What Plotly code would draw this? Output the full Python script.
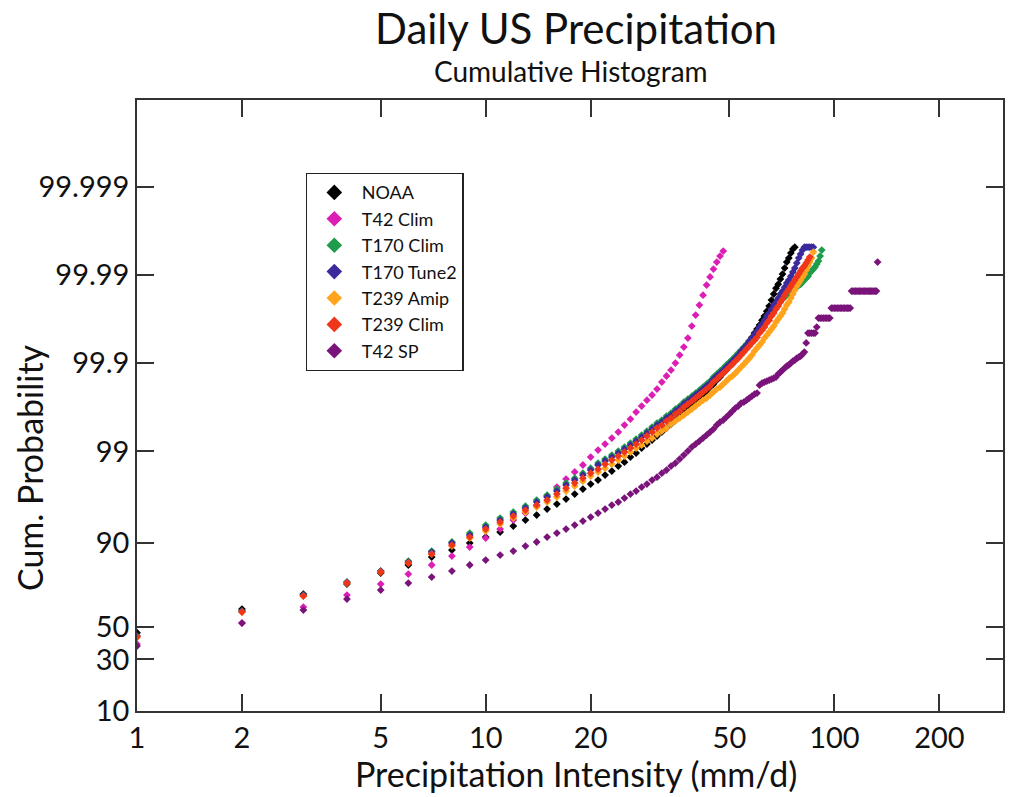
import math
import plotly.graph_objects as go

# Precipitation bins (mm/d), 1 mm/d spacing
bin_mm = list(range(1, 134))

# Cumulative probability (%) per bin
noaa = [46.27, 61.56, 70.33, 75.50, 80.42, 83.52, 86.19, 88.23, 90.01, 91.33,
        92.31, 93.36, 94.27, 94.93, 95.64, 96.15, 96.61, 97.01, 97.37, 97.68,
        97.91, 98.16, 98.34, 98.54, 98.68, 98.844, 98.957, 99.083, 99.174, 99.256,
        99.330, 99.396, 99.455, 99.509, 99.558, 99.601, 99.641, 99.676, 99.701, 99.730,
        99.751, 99.775, 99.792, 99.813, 99.827, 99.844, 99.856, 99.870, 99.880, 99.892,
        99.900, 99.9099, 99.9167, 99.925, 99.931, 99.9376, 99.9438, 99.949, 99.9544, 99.9589,
        99.9630, 99.9675, 99.9708, 99.9743, 99.9775, 99.9808, 99.9836, 99.9859, 99.9873, 99.9889,
        99.99026, 99.99167, 99.99288, 99.99359, 99.99438, 99.99494, 99.99519]

t42_clim = [39.06, 52.62, 62.79, 69.79, 75.50, 80.01, 83.52, 86.51, 89.02, 91.12,
            92.85, 94.27, 95.18, 95.95, 96.86, 97.50, 97.96, 98.30, 98.58, 98.844,
            99.035, 99.174, 99.293, 99.396, 99.496, 99.569, 99.641, 99.693, 99.737, 99.770,
            99.803, 99.836, 99.860, 99.880, 99.900, 99.919, 99.9342, 99.9480, 99.9620, 99.9715,
            99.9781, 99.9831, 99.9870, 99.9895, 99.99145, 99.99288, 99.99392, 99.99466]

t170_clim = [44.13, 60.32, 69.79, 76.45, 81.24, 84.91, 87.96, 90.25, 92.13, 93.52,
             94.54, 95.30, 95.95, 96.52, 96.93, 97.37, 97.74, 98.01, 98.25, 98.46,
             98.65, 98.782, 98.902, 99.010, 99.107, 99.195, 99.275, 99.346, 99.411, 99.469,
             99.521, 99.558, 99.601, 99.631, 99.668, 99.693, 99.723, 99.744, 99.763, 99.781,
             99.797, 99.813, 99.827, 99.840, 99.856, 99.867, 99.877, 99.886, 99.895, 99.9027,
             99.9099, 99.9167, 99.9230, 99.9288, 99.9342, 99.9392, 99.9438, 99.9480, 99.9519, 99.9556,
             99.9589, 99.9620, 99.9658, 99.9684, 99.9708, 99.9730, 99.9750, 99.9769, 99.9786, 99.9803,
             99.9813, 99.9822, 99.9831, 99.9840, 99.9848, 99.9852, 99.9859, 99.9863, 99.9870, 99.9873,
             99.9880, 99.9886, 99.9892, 99.9897, 99.99051, 99.99099, 99.99145, 99.99189, 99.99250, 99.99307,
             99.99392, 99.99480]

t170_tune2 = [44.13, 60.32, 69.79, 76.45, 81.24, 84.56, 87.68, 90.01, 91.74, 93.19,
              94.27, 95.06, 95.75, 96.34, 96.78, 97.23, 97.62, 97.91, 98.16, 98.38,
              98.58, 98.72, 98.844, 98.957, 99.060, 99.152, 99.236, 99.312, 99.380, 99.441,
              99.496, 99.534, 99.580, 99.611, 99.650, 99.676, 99.709, 99.730, 99.751, 99.770,
              99.787, 99.803, 99.818, 99.831, 99.848, 99.860, 99.870, 99.880, 99.889, 99.897,
              99.905, 99.912, 99.919, 99.9270, 99.9325, 99.9376, 99.9438, 99.9480, 99.9532, 99.9567,
              99.9610, 99.9640, 99.9675, 99.9708, 99.9730, 99.9757, 99.9781, 99.9797, 99.9817, 99.9836,
              99.9848, 99.9863, 99.9877, 99.9886, 99.9897, 99.99076, 99.99167, 99.99270, 99.99359, 99.99423,
              99.99480, 99.99519, 99.99519, 99.99519, 99.99519, 99.99519, 99.99519]

t239_amip = [43.50, 59.69, 69.24, 75.98, 80.83, 84.22, 87.10, 89.28, 91.12, 92.50,
             93.67, 94.54, 95.30, 95.85, 96.34, 96.78, 97.23, 97.56, 97.85, 98.11,
             98.30, 98.46, 98.61, 98.75, 98.873, 98.983, 99.083, 99.152, 99.236, 99.293,
             99.363, 99.411, 99.455, 99.509, 99.546, 99.580, 99.611, 99.641, 99.668, 99.693,
             99.716, 99.737, 99.751, 99.770, 99.787, 99.803, 99.813, 99.827, 99.840, 99.852,
             99.860, 99.870, 99.880, 99.889, 99.897, 99.905, 99.912, 99.919, 99.9270, 99.9325,
             99.9376, 99.9423, 99.9480, 99.9519, 99.9556, 99.9589, 99.9620, 99.9658, 99.9684, 99.9708,
             99.9730, 99.9757, 99.9781, 99.9797, 99.9817, 99.9836, 99.9852, 99.9867, 99.9877, 99.9886,
             99.9895, 99.99026, 99.99123, 99.99210, 99.99288, 99.99359, 99.99452]

t239_clim = [43.50, 59.69, 69.24, 75.98, 80.83, 84.22, 87.10, 89.53, 91.33, 92.85,
             93.98, 94.81, 95.53, 96.05, 96.52, 97.01, 97.43, 97.74, 98.01, 98.25,
             98.42, 98.61, 98.75, 98.873, 98.983, 99.083, 99.174, 99.256, 99.330, 99.396,
             99.455, 99.496, 99.546, 99.580, 99.621, 99.650, 99.685, 99.709, 99.730, 99.751,
             99.770, 99.787, 99.803, 99.818, 99.836, 99.848, 99.860, 99.870, 99.880, 99.889,
             99.897, 99.905, 99.912, 99.919, 99.925, 99.931, 99.936, 99.941, 99.945, 99.949,
             99.9544, 99.9578, 99.9610, 99.9649, 99.9675, 99.9708, 99.9730, 99.9757, 99.9775, 99.9797,
             99.9813, 99.9831, 99.9844, 99.9856, 99.9867, 99.9877, 99.9886, 99.9895, 99.99026, 99.99099,
             99.99167, 99.99210, 99.99270, 99.99325, 99.99376]

t42_sp = [37.82, 52.62, 60.94, 67.53, 72.48, 75.98, 78.72, 81.24, 83.52, 85.24,
          86.80, 87.96, 89.28, 90.25, 91.33, 92.13, 92.85, 93.52, 94.12, 94.68,
          95.18, 95.64, 96.05, 96.34, 96.69, 97.01, 97.23, 97.50, 97.68, 97.91,
          98.06, 98.25, 98.38, 98.54, 98.65, 98.782, 98.902, 99.010, 99.107, 99.174,
          99.236, 99.293, 99.346, 99.396, 99.441, 99.496, 99.534, 99.558, 99.591, 99.621,
          99.650, 99.676, 99.693, 99.716, 99.723, 99.737, 99.751, 99.763, 99.775, 99.781,
          99.822, 99.831, 99.836, 99.840, 99.844, 99.848, 99.852, 99.856, 99.867, 99.873,
          99.880, 99.886, 99.892, 99.895, 99.900, 99.905, 99.9075, 99.912, 99.9145, 99.9167,
          99.9210, 99.925, 99.941, 99.9544, 99.9544, 99.9544, 99.9544, 99.9544, 99.9610, 99.9692,
          99.9692, 99.9692, 99.9692, 99.9692, 99.9692, 99.9692, 99.9692, 99.9763, 99.9763, 99.9763,
          99.9763, 99.9763, 99.9763, 99.9763, 99.9763, 99.9763, 99.9763, 99.9763, 99.9763, 99.9763,
          99.9763, 99.9848, 99.9848, 99.9848, 99.9848, 99.9848, 99.9848, 99.9848, 99.9848, 99.9848,
          99.9848, 99.9848, 99.9848, 99.9848, 99.9848, 99.9848, 99.9848, 99.9848, 99.9848, 99.9848,
          99.9848, 99.9848, 99.99288]

series_names = ["NOAA", "T42 Clim", "T170 Clim", "T170 Tune2", "T239 Amip", "T239 Clim", "T42 SP"]
series_values = [noaa, t42_clim, t170_clim, t170_tune2, t239_amip, t239_clim, t42_sp]
series_colors = ["#000000", "#dc1fb4", "#1e9c4c", "#3b2a9c", "#ffa41c", "#f0361a", "#7a147a"]

x_ticks = [1, 2, 5, 10, 20, 50, 100, 200]
y_ticks = [10, 30, 50, 90, 99, 99.9, 99.99, 99.999]
y_ticktext = ["10", "30", "50", "90", "99", "99.9", "99.99", "99.999"]


def logodds(pct):
    p = pct / 100.0
    return math.log10(p / (1.0 - p))


FONT = "Lato"

fig = go.Figure()
for name, vals, col in zip(series_names, series_values, series_colors):
    fig.add_trace(go.Scatter(
        x=bin_mm[:len(vals)],
        y=[logodds(v) for v in vals],
        mode="markers",
        name=name,
        marker=dict(symbol="diamond", size=6, color=col, line=dict(width=0)),
    ))

axis_style = dict(
    ticks="inside", ticklen=17, tickwidth=1.5, tickcolor="#333333",
    showline=True, linecolor="#333333", linewidth=1.5, mirror="ticks",
    showgrid=False, zeroline=False,
    tickfont=dict(family=FONT, size=29, color="#111111"),
)

fig.update_layout(
    width=1010, height=797,
    margin=dict(l=137, r=5, t=100, b=86),
    paper_bgcolor="white", plot_bgcolor="white",
    font=dict(family=FONT, color="#111111"),
    showlegend=True,
    legend=dict(
        x=0.1947, y=0.8805, xanchor="left", yanchor="top",
        bordercolor="#222222", borderwidth=1.2, bgcolor="white",
        font=dict(family=FONT, size=18, color="#111111"),
        tracegroupgap=0, itemsizing="constant", itemwidth=45,
    ),
    xaxis=dict(type="log", range=[0, 2.4835], tickvals=x_ticks,
               ticktext=[str(v) for v in x_ticks], **axis_style),
    yaxis=dict(range=[logodds(10), 5.99], tickvals=[logodds(v) for v in y_ticks],
               ticktext=y_ticktext, **axis_style),
    annotations=[
        dict(text="Daily US Precipitation", xref="paper", yref="paper",
             x=0.5069, y=1.1178, xanchor="center", yanchor="middle", showarrow=False,
             font=dict(family=FONT, size=42, color="#111111")),
        dict(text="Cumulative Histogram", xref="paper", yref="paper",
             x=0.5012, y=1.0475, xanchor="center", yanchor="middle", showarrow=False,
             font=dict(family=FONT, size=28, color="#111111")),
        dict(text="Precipitation Intensity (mm/d)", xref="paper", yref="paper",
             x=0.507, y=-0.1015, xanchor="center", yanchor="middle", showarrow=False,
             font=dict(family=FONT, size=34, color="#111111")),
        dict(text="Cum. Probability", xref="paper", yref="paper",
             x=-0.1233, y=0.398, xanchor="center", yanchor="middle", showarrow=False,
             textangle=-90, font=dict(family=FONT, size=34, color="#111111")),
    ],
)

fig.write_html("out.html")
